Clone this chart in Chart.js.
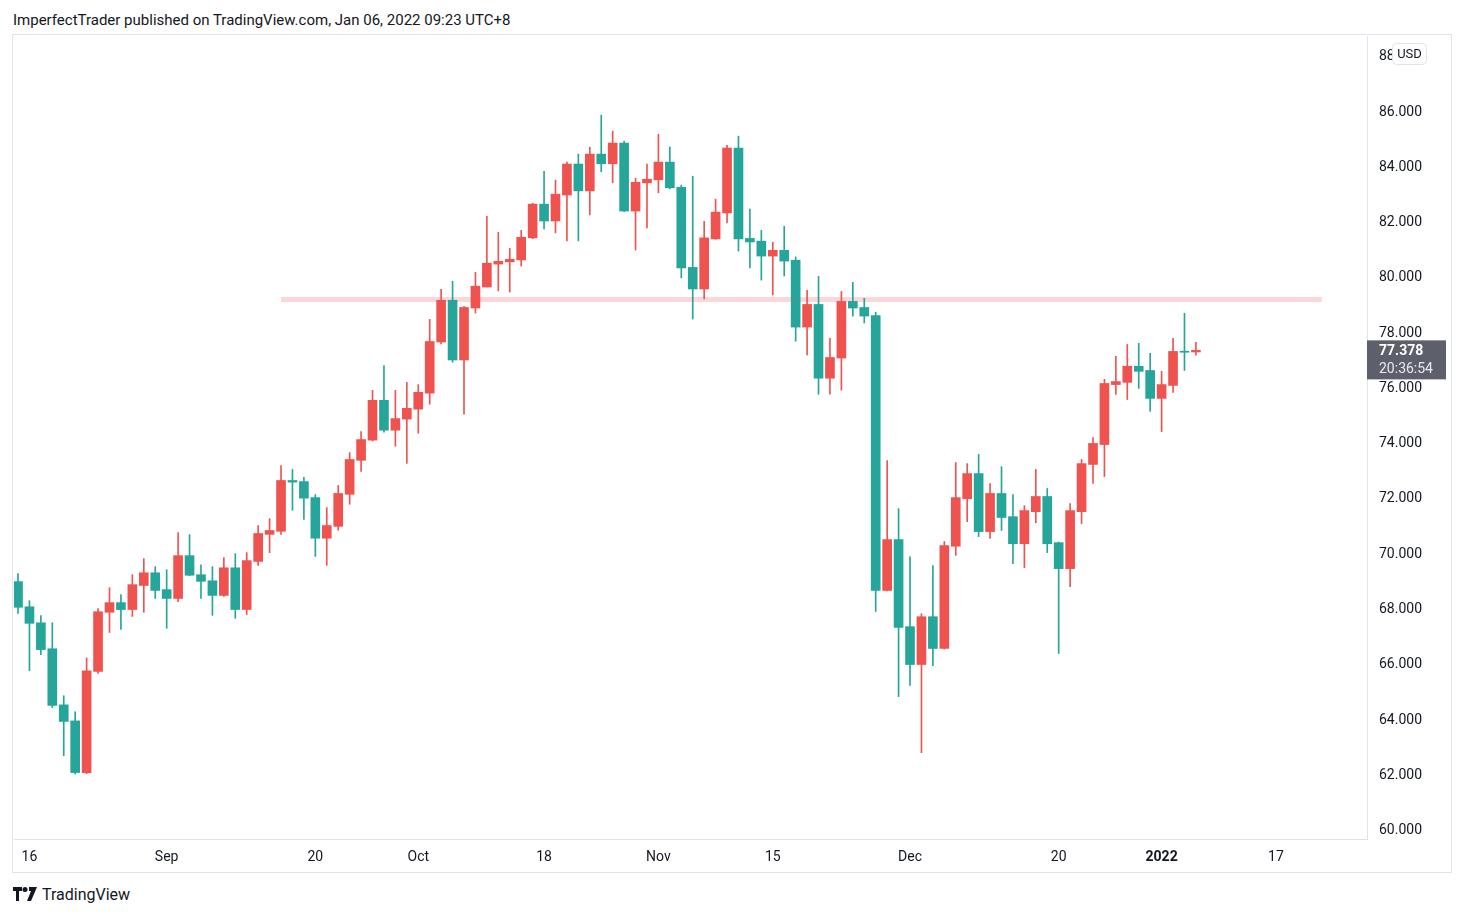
<!DOCTYPE html>
<html>
<head>
<meta charset="utf-8">
<title>Crude oil daily - TradingView</title>
<script src="https://cdn.jsdelivr.net/npm/chart.js@4.4.1/dist/chart.umd.min.js"></script>
<style>
    body { margin: 0; background: #ffffff; font-family: 'Roboto', sans-serif; color: #131722; }
    #header { position: absolute; left: 13px; top: 11px; font-size: 15px; color: #131722; }
    #frame { position: absolute; left: 12px; top: 34px; width: 1440px; height: 839px; box-sizing: border-box; border: 1px solid #e0e3eb; }
    #frame canvas { position: absolute; left: 0; top: 0; }
    #footer { position: absolute; left: 13px; top: 885px; height: 18px; display: flex; align-items: center; font-size: 16px; color: #131722; }
    #footer svg { margin-right: 5px; }
</style>
</head>
<body>
<div id="header">ImperfectTrader published on TradingView.com, Jan 06, 2022 09:23 UTC+8</div>
<div id="frame"><canvas id="priceChart" width="1440" height="839"></canvas></div>
<div id="footer">
    <svg width="24" height="14" viewBox="0 0 24 14">
        <path d="M0 0h9v4H6v10H3V4H0z" fill="#131722"/>
        <circle cx="12" cy="2.5" r="2.5" fill="#131722"/>
        <path d="M16 0h8l-6 14h-4l4-10h-2z" fill="#131722"/>
    </svg>
    <span>TradingView</span>
</div>
<script>
// trading days shown on the chart
const dates = [
    '2021-08-13', '2021-08-16', '2021-08-17', '2021-08-18', '2021-08-19', '2021-08-20',
    '2021-08-23', '2021-08-24', '2021-08-25', '2021-08-26', '2021-08-27', '2021-08-30', '2021-08-31',
    '2021-09-01', '2021-09-02', '2021-09-03', '2021-09-06', '2021-09-07', '2021-09-08', '2021-09-09', '2021-09-10',
    '2021-09-13', '2021-09-14', '2021-09-15', '2021-09-16', '2021-09-17', '2021-09-20', '2021-09-21', '2021-09-22',
    '2021-09-23', '2021-09-24', '2021-09-27', '2021-09-28', '2021-09-29', '2021-09-30',
    '2021-10-01', '2021-10-04', '2021-10-05', '2021-10-06', '2021-10-07', '2021-10-08', '2021-10-11', '2021-10-12',
    '2021-10-13', '2021-10-14', '2021-10-15', '2021-10-18', '2021-10-19', '2021-10-20', '2021-10-21', '2021-10-22',
    '2021-10-25', '2021-10-26', '2021-10-27', '2021-10-28', '2021-10-29',
    '2021-11-01', '2021-11-02', '2021-11-03', '2021-11-04', '2021-11-05', '2021-11-08', '2021-11-09', '2021-11-10',
    '2021-11-11', '2021-11-12', '2021-11-15', '2021-11-16', '2021-11-17', '2021-11-18', '2021-11-19', '2021-11-22',
    '2021-11-23', '2021-11-24', '2021-11-25', '2021-11-26', '2021-11-29', '2021-11-30',
    '2021-12-01', '2021-12-02', '2021-12-03', '2021-12-06', '2021-12-07', '2021-12-08', '2021-12-09', '2021-12-10',
    '2021-12-13', '2021-12-14', '2021-12-15', '2021-12-16', '2021-12-17', '2021-12-20', '2021-12-21', '2021-12-22',
    '2021-12-23', '2021-12-27', '2021-12-28', '2021-12-29', '2021-12-30', '2021-12-31',
    '2022-01-03', '2022-01-04', '2022-01-05', '2022-01-06'
];
// empty days to the right of the last bar
const futureDates = [
    '2022-01-07', '2022-01-10', '2022-01-11', '2022-01-12', '2022-01-13', '2022-01-14',
    '2022-01-17', '2022-01-18', '2022-01-19', '2022-01-20', '2022-01-21'
];

const opens = [
    69.01, 68.10, 67.52, 66.58, 64.55, 63.97, 62.10, 65.76, 67.90, 68.25, 68.00, 68.87, 69.33,
    68.72, 68.40, 69.95, 69.26, 69.04, 68.51, 69.51, 68.00, 69.74, 70.72, 70.83, 72.67, 72.63,
    72.05, 70.58, 71.01, 72.17, 73.40, 74.13, 75.57, 74.49, 74.89, 75.25, 75.83, 77.68, 79.19,
    77.03, 78.91, 79.67, 80.50, 80.58, 80.65, 81.45, 82.67, 82.06, 83.00, 84.12, 83.15, 84.48,
    84.13, 84.88, 82.42, 83.44, 83.55, 84.19, 83.28, 80.38, 79.60, 81.41, 82.35, 84.70, 81.43,
    81.33, 80.79, 81.00, 80.64, 78.22, 79.04, 76.37, 77.10, 79.15, 78.93, 78.64, 68.69, 70.53,
    67.38, 66.01, 67.74, 66.59, 70.29, 72.01, 72.92, 70.82, 72.20, 71.36, 70.38, 71.54, 72.09,
    70.42, 69.48, 71.54, 73.25, 73.97, 76.14, 76.22, 76.80, 76.65, 75.64, 76.11, 77.34, 77.32
];
const highs = [
    69.30, 68.32, 67.78, 67.52, 64.88, 64.30, 66.25, 68.03, 68.79, 68.54, 69.26, 69.84, 69.55,
    69.44, 70.78, 70.71, 69.62, 69.55, 69.88, 70.02, 70.06, 71.04, 71.29, 73.21, 73.07, 72.78,
    72.16, 71.69, 72.49, 73.68, 74.44, 75.93, 76.83, 75.93, 76.22, 76.14, 78.50, 79.59, 79.88,
    78.97, 80.20, 82.23, 81.65, 81.07, 81.72, 82.70, 83.86, 83.54, 84.19, 84.48, 84.73, 85.89,
    85.31, 84.95, 83.61, 84.12, 85.20, 84.73, 83.36, 83.68, 82.05, 82.85, 84.80, 85.13, 82.49,
    81.72, 81.29, 81.87, 80.76, 79.55, 80.06, 77.81, 79.51, 79.84, 79.26, 78.75, 73.39, 71.65,
    69.91, 67.85, 69.59, 70.46, 73.32, 73.28, 73.61, 72.56, 73.17, 72.16, 71.76, 73.07, 72.38,
    70.44, 71.83, 73.43, 74.22, 76.33, 77.16, 77.59, 77.63, 77.27, 76.62, 77.81, 78.72, 77.67
];
const lows = [
    67.86, 65.79, 66.37, 64.45, 62.71, 62.05, 62.06, 65.69, 67.17, 67.28, 67.75, 67.90, 68.40,
    67.32, 68.28, 69.22, 68.40, 67.79, 68.47, 67.68, 67.82, 69.60, 70.06, 70.72, 71.59, 71.26,
    69.92, 69.60, 70.87, 71.81, 73.00, 74.10, 74.42, 73.91, 73.29, 74.38, 75.43, 77.61, 76.95,
    75.07, 78.73, 79.67, 79.53, 79.49, 80.43, 81.42, 81.77, 81.63, 81.34, 81.34, 82.28, 83.84,
    83.44, 82.40, 81.01, 81.81, 83.08, 83.22, 80.00, 78.51, 79.24, 81.40, 81.99, 80.97, 80.36,
    79.92, 79.38, 80.07, 77.71, 77.21, 75.79, 75.79, 75.94, 78.62, 78.37, 67.93, 68.67, 64.85,
    65.25, 62.82, 65.97, 66.57, 69.96, 71.18, 70.64, 70.57, 70.86, 69.66, 69.51, 71.14, 70.06,
    66.41, 68.83, 71.11, 72.56, 72.81, 75.78, 75.60, 76.00, 75.17, 74.44, 75.86, 76.65, 77.20
];
const closes = [
    68.08, 67.50, 66.55, 64.53, 63.95, 62.10, 65.78, 67.92, 68.25, 68.00, 68.90, 69.33, 68.69,
    68.40, 69.95, 69.24, 69.02, 68.51, 69.51, 68.00, 69.77, 70.75, 70.86, 72.67, 72.61, 72.03,
    70.58, 71.04, 72.20, 73.43, 74.15, 75.57, 74.49, 74.91, 75.28, 75.86, 77.70, 79.19, 77.03,
    78.93, 79.70, 80.53, 80.60, 80.67, 81.47, 82.67, 82.06, 83.03, 84.12, 83.15, 84.48, 84.13,
    84.88, 82.42, 83.46, 83.57, 84.19, 83.26, 80.36, 79.60, 81.45, 82.38, 84.70, 81.41, 81.30,
    80.79, 81.00, 80.61, 78.22, 79.04, 76.37, 77.12, 79.15, 78.91, 78.62, 68.69, 70.53, 67.35,
    66.01, 67.74, 66.59, 70.31, 72.05, 72.92, 70.82, 72.20, 71.33, 70.38, 71.58, 72.09, 70.38,
    69.48, 71.58, 73.28, 74.01, 76.18, 76.25, 76.80, 76.62, 75.64, 76.14, 77.34, 77.31, 77.378
];

// horizontal level drawn by the author
const levelPrice = 79.22;
const levelFrom = '2021-09-15';
const levelTo = '2022-01-21';

// axis labels
const priceTicks = [60, 62, 64, 66, 68, 70, 72, 74, 76, 78, 80, 82, 84, 86, 88];
const timeTickDates = ['2021-08-16', '2021-09-01', '2021-09-20', '2021-10-01', '2021-10-18', '2021-11-01',
    '2021-11-15', '2021-12-01', '2021-12-20', '2022-01-03', '2022-01-17'];
const timeTickLabels = ['16', 'Sep', '20', 'Oct', '18', 'Nov', '15', 'Dec', '20', '2022', '17'];

const lastTime = '20:36:54';
const currency = 'USD';

const upColor = '#ef5350';
const downColor = '#26a69a';
const textColor = '#131722';
const lineColor = '#e0e3eb';
const fontFamily = "'Roboto', sans-serif";

const allDates = dates.concat(futureDates);
const candleColor = (i) => closes[i] >= opens[i] ? upColor : downColor;

const bodies = dates.map((d, i) => ({ x: i, y: [opens[i], closes[i]] }));
const wicks = dates.map((d, i) => ({ x: i, y: [lows[i], highs[i]] }));
const levelLine = [
    { x: allDates.indexOf(levelFrom), y: levelPrice },
    { x: allDates.indexOf(levelTo), y: levelPrice }
];

// last price tag + currency badge on the price scale
const overlayPlugin = {
    id: 'overlay',
    afterDraw(chart) {
        const { ctx } = chart;
        const yScale = chart.scales.y;
        const last = closes.length - 1;
        const y = yScale.getPixelForValue(closes[last]);
        const left = yScale.left;

        ctx.save();
        ctx.fillStyle = '#5d606b';
        ctx.fillRect(left, y - 10, 79, 39);
        ctx.fillStyle = '#ffffff';
        ctx.textBaseline = 'middle';
        ctx.textAlign = 'left';
        ctx.font = 'bold 14px ' + fontFamily;
        ctx.fillText(closes[last].toFixed(3), left + 12, y + 1);
        ctx.font = '14px ' + fontFamily;
        ctx.fillStyle = '#e9eaee';
        ctx.fillText(lastTime, left + 12, y + 19);

        // currency badge
        const bx = left + 25, by = 8, bw = 34, bh = 21;
        ctx.fillStyle = '#ffffff';
        ctx.strokeStyle = lineColor;
        ctx.lineWidth = 1;
        ctx.beginPath();
        ctx.roundRect(bx + 0.5, by + 0.5, bw, bh, 4);
        ctx.fill();
        ctx.stroke();
        ctx.fillStyle = textColor;
        ctx.textAlign = 'center';
        ctx.font = '13px ' + fontFamily;
        ctx.fillText(currency, bx + bw / 2 + 0.5, by + bh / 2 + 1);
        ctx.restore();
    }
};

new Chart(document.getElementById('priceChart'), {
    type: 'bar',
    data: {
        datasets: [
            {
                type: 'bar',
                data: bodies,
                grouped: false,
                barThickness: 9,
                minBarLength: 1,
                backgroundColor: (ctx) => candleColor(ctx.dataIndex),
                borderWidth: 0,
                order: 0
            },
            {
                type: 'bar',
                data: wicks,
                grouped: false,
                barThickness: 1,
                backgroundColor: (ctx) => candleColor(ctx.dataIndex),
                borderWidth: 0,
                order: 1
            },
            {
                type: 'line',
                data: levelLine,
                borderColor: 'rgba(242, 54, 69, 0.2)',
                borderWidth: 5,
                borderCapStyle: 'butt',
                pointRadius: 0,
                order: 2
            }
        ]
    },
    options: {
        responsive: false,
        animation: false,
        layout: { padding: { left: 1, top: 1, right: 0, bottom: 0 } },
        plugins: {
            legend: { display: false },
            tooltip: { enabled: false }
        },
        scales: {
            x: {
                type: 'linear',
                min: -0.35,
                max: 117.96,
                offset: false,
                grid: { display: false, drawTicks: false, offset: false },
                border: { display: true, color: lineColor },
                afterFit: (scale) => {
                    scale.height = 35;
                    scale.paddingLeft = 0;
                    scale.paddingRight = 0;
                },
                afterBuildTicks: (scale) => {
                    scale.ticks = timeTickDates.map(d => ({ value: allDates.indexOf(d) }));
                },
                ticks: {
                    autoSkip: false,
                    maxRotation: 0,
                    padding: 10,
                    color: textColor,
                    font: (ctx) => ({
                        family: fontFamily,
                        size: 14,
                        weight: ctx.tick && ctx.tick.label === '2022' ? 'bold' : 'normal'
                    }),
                    callback: (value) => timeTickLabels[timeTickDates.indexOf(allDates[value])]
                }
            },
            y: {
                position: 'right',
                min: 59.696,
                max: 88.754,
                grid: { display: false, drawTicks: false },
                border: { display: true, color: lineColor },
                afterFit: (scale) => {
                    scale.width = 86;
                    scale.paddingTop = 0;
                    scale.paddingBottom = 0;
                },
                afterBuildTicks: (scale) => {
                    scale.ticks = priceTicks.map(v => ({ value: v }));
                },
                ticks: {
                    padding: 12,
                    color: textColor,
                    font: { family: fontFamily, size: 14 },
                    callback: (value) => value.toFixed(3)
                }
            }
        }
    },
    plugins: [overlayPlugin]
});
</script>
</body>
</html>
